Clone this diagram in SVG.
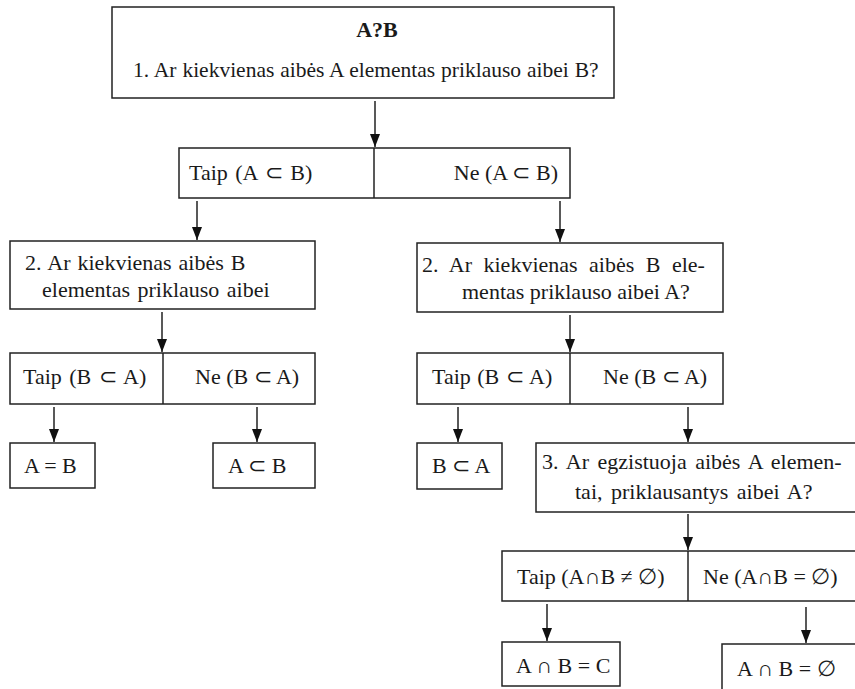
<svg xmlns="http://www.w3.org/2000/svg" width="855" height="689" viewBox="0 0 855 689">
  <style>
    .box { fill: #fff; stroke: #222; stroke-width: 1.5; }
    .div { stroke: #222; stroke-width: 1.5; }
    text { font-family: 'Liberation Serif', 'Times New Roman', serif; font-size: 22px; fill: #1a1a1a; }
    .b { font-weight: bold; }
    .arrow { stroke: #222; stroke-width: 1.5; fill: none; marker-end: url(#head); }
  </style>
  <defs>
    <marker id="head" viewBox="0 0 10 13" refX="5" refY="13" markerWidth="10" markerHeight="13" markerUnits="userSpaceOnUse" orient="0">
      <path d="M0,0 L10,0 L5,13 Z" fill="#111"/>
    </marker>
  </defs>
  <rect width="855" height="689" fill="#fff"/>

  <g id="q1">
    <rect class="box" x="112" y="7" width="502" height="91"/>
    <text class="b" x="377" y="37" text-anchor="middle">A?B</text>
    <text x="133" y="77" style="font-size:21.5px" word-spacing="0.5">1. Ar kiekvienas aibės A elementas priklauso aibei B?</text>
  </g>

  <g id="a1">
    <rect class="box" x="179" y="148" width="391" height="50"/>
    <line class="div" x1="374" y1="148" x2="374" y2="198"/>
    <text x="189" y="180" word-spacing="2">Taip (A ⊂ B)</text>
    <text x="558" y="180" text-anchor="end">Ne (A ⊂ B)</text>
  </g>

  <g id="q2-left">
    <rect class="box" x="10" y="241" width="305" height="68"/>
    <text x="25" y="270" word-spacing="1.5">2. Ar kiekvienas aibės B</text>
    <text x="42" y="297" word-spacing="2">elementas priklauso aibei</text>
  </g>

  <g id="q2-right">
    <rect class="box" x="417" y="243" width="306" height="69"/>
    <text x="422" y="272" word-spacing="6">2. Ar kiekvienas aibės B ele-</text>
    <text x="462" y="299">mentas priklauso aibei A?</text>
  </g>

  <g id="a2-left">
    <rect class="box" x="10" y="353" width="305" height="51"/>
    <line class="div" x1="163" y1="353" x2="163" y2="404"/>
    <text x="23" y="384" word-spacing="2">Taip (B ⊂ A)</text>
    <text x="195" y="384">Ne (B ⊂ A)</text>
  </g>

  <g id="a2-right">
    <rect class="box" x="417" y="353" width="306" height="51"/>
    <line class="div" x1="570" y1="353" x2="570" y2="404"/>
    <text x="432" y="384" word-spacing="1">Taip (B ⊂ A)</text>
    <text x="603" y="384">Ne (B ⊂ A)</text>
  </g>

  <g id="r-equal">
    <rect class="box" x="10" y="443" width="85" height="45"/>
    <text x="24" y="473">A = B</text>
  </g>

  <g id="r-a-sub-b">
    <rect class="box" x="213" y="443" width="102" height="45"/>
    <text x="228" y="473">A ⊂ B</text>
  </g>

  <g id="r-b-sub-a">
    <rect class="box" x="417" y="443" width="85" height="46"/>
    <text x="432" y="473">B ⊂ A</text>
  </g>

  <g id="q3">
    <rect class="box" x="536" y="443" width="330" height="69"/>
    <text x="542" y="469" word-spacing="3">3. Ar egzistuoja aibės A elemen-</text>
    <text x="575" y="499" word-spacing="3">tai, priklausantys aibei A?</text>
  </g>

  <g id="a3">
    <rect class="box" x="502" y="551" width="364" height="50"/>
    <line class="div" x1="688" y1="551" x2="688" y2="601"/>
    <text x="517" y="584">Taip (A∩B ≠ ∅)</text>
    <text x="703" y="584">Ne (A∩B = ∅)</text>
  </g>

  <g id="r-meet">
    <rect class="box" x="502" y="642" width="118" height="44"/>
    <text x="516" y="673">A ∩ B = C</text>
  </g>

  <g id="r-empty">
    <rect class="box" x="722" y="644" width="150" height="60"/>
    <text x="737" y="676">A ∩ B = ∅</text>
  </g>

  <g id="connectors">
    <line class="arrow" x1="375" y1="101" x2="375" y2="147"/>
    <line class="arrow" x1="197" y1="201" x2="197" y2="240"/>
    <line class="arrow" x1="560" y1="201" x2="560" y2="242"/>
    <line class="arrow" x1="162" y1="312" x2="162" y2="352"/>
    <line class="arrow" x1="570" y1="315" x2="570" y2="352"/>
    <line class="arrow" x1="54" y1="407" x2="54" y2="442"/>
    <line class="arrow" x1="257" y1="407" x2="257" y2="442"/>
    <line class="arrow" x1="458" y1="407" x2="458" y2="442"/>
    <line class="arrow" x1="688" y1="407" x2="688" y2="442"/>
    <line class="arrow" x1="688" y1="514" x2="688" y2="550"/>
    <line class="arrow" x1="547" y1="604" x2="547" y2="641"/>
    <line class="arrow" x1="806" y1="607" x2="806" y2="643"/>
  </g>
</svg>
